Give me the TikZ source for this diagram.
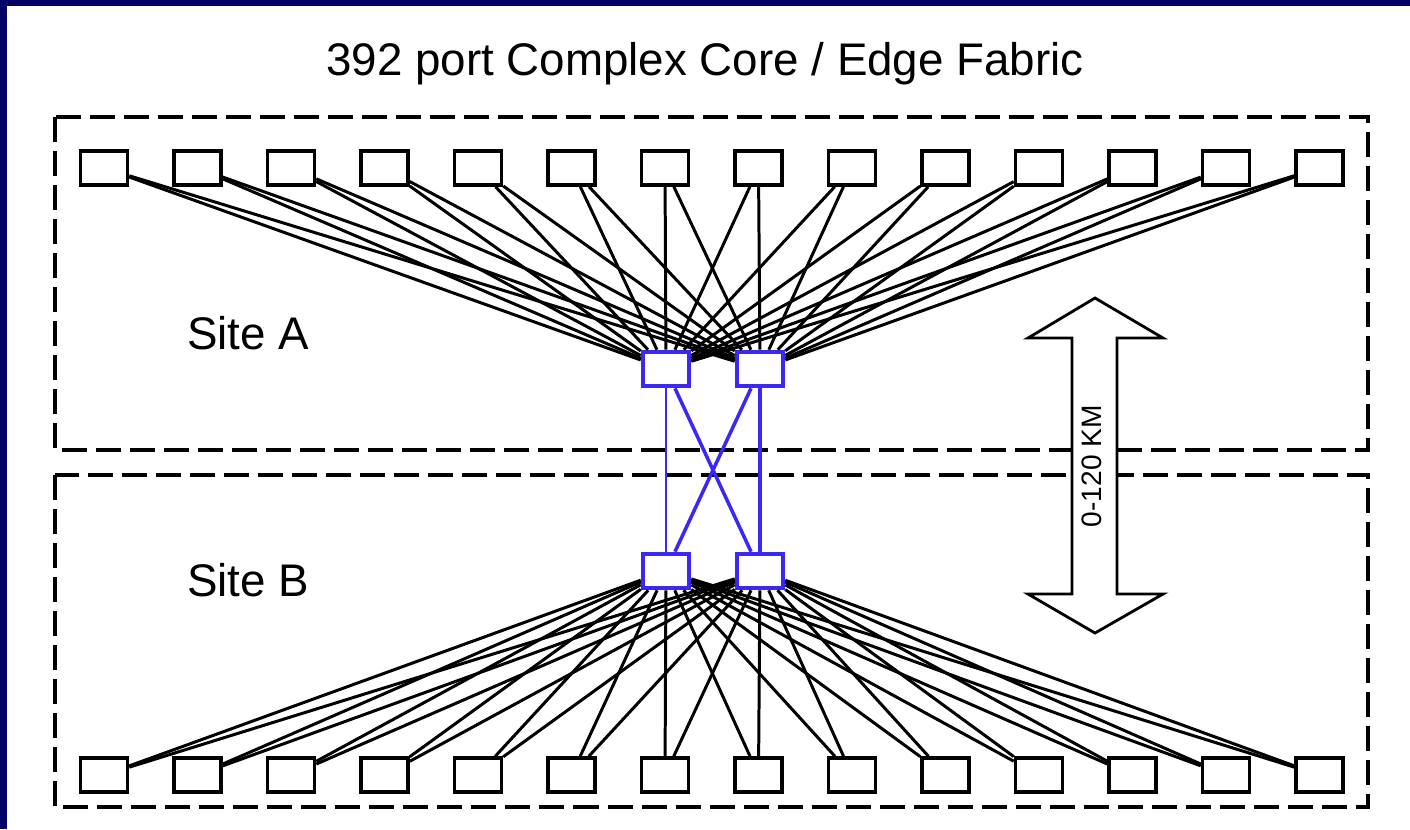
\documentclass[tikz,border=0pt]{standalone}
\usepackage{fontspec}
\setmainfont{Liberation Sans}
\definecolor{navy}{RGB}{0,0,102}
\definecolor{coreblue}{RGB}{60,40,245}
\begin{document}
\begin{tikzpicture}[x=0.01cm,y=-0.01cm,
    sw/.style={draw,line width=1pt,fill=white,minimum width=0.47cm,minimum height=0.34cm,inner sep=0pt},
    core/.style={draw=coreblue,line width=1.3pt,fill=white,minimum width=0.46cm,minimum height=0.34cm,inner sep=0pt},
    site/.style={line width=1pt,dash pattern=on 0.25cm off 0.09cm},
    link/.style={line width=0.85pt},
    label/.style={font=\fontsize{13}{15}\selectfont}]
    % background
    \fill[navy] (0,0) rectangle (1410,829);
    \fill[white] (7,6) rectangle (1410,829);
    \node[label] (title) at (705,64) {392 port Complex Core / Edge Fabric};
    % sites
    \draw[site] (55,117) rectangle (1368,450);
    \draw[site] (55,475) rectangle (1368,807);
    \node[label] (siteA) at (248,333) {Site A};
    \node[label] (siteB) at (248,580) {Site B};
    % core switches
    \node[core] (cA1) at (666,369) {};
    \node[core] (cA2) at (760,369) {};
    \node[core] (cB1) at (666,571) {};
    \node[core] (cB2) at (760,571) {};
    % edge switches
    \foreach \i in {0,...,13} {
        \node[sw] (a\i) at ({104+93.5*\i},168) {};
        \node[sw] (b\i) at ({104+93.5*\i},775) {};
        \draw[link] (a\i) -- (cA1);
        \draw[link] (a\i) -- (cA2);
        \draw[link] (b\i) -- (cB1);
        \draw[link] (b\i) -- (cB2);
    }
    % inter-site links
    \draw[coreblue,line width=0.7pt] (cA1) -- (cB1);
    \draw[coreblue,line width=1.3pt] (cA2) -- (cB2);
    \draw[coreblue,line width=1pt] (cA1) -- (cB2);
    \draw[coreblue,line width=1pt] (cA2) -- (cB1);
    % distance arrow
    \filldraw[fill=white,line width=0.8pt] (1095,298) -- (1163,338) -- (1117,338) -- (1117,594)
        -- (1163,594) -- (1095,633) -- (1028,594) -- (1072,594) -- (1072,338) -- (1028,338) -- cycle;
    \node[rotate=90,font=\fontsize{8}{10}\selectfont] (dist) at (1092,466) {0-120 KM};
\end{tikzpicture}
\end{document}
